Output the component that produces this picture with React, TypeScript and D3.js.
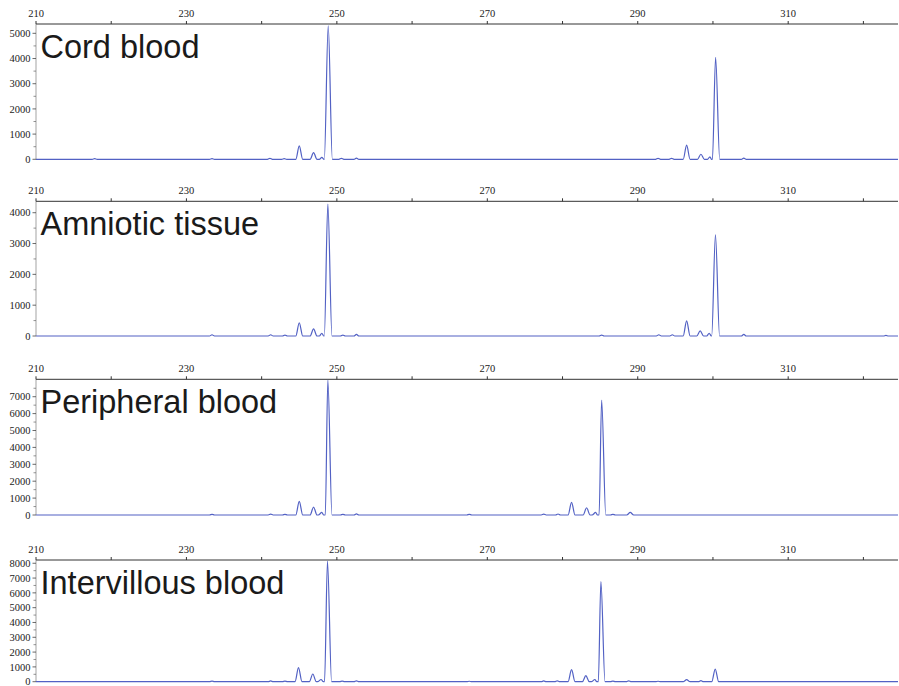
import React from "react";
import * as d3 from "d3";

// Panel titles
const panelTitles = ["Cord blood", "Amniotic tissue", "Peripheral blood", "Intervillous blood"];

// X axis (fragment size, bp)
const sizeDomain = [210, 324.6];
const majorSizeTicks = [210, 230, 250, 270, 290, 310];
const minorSizeTicks = [220, 240, 260, 280, 300, 320];

// Y axis maxima (RFU) and labeled ticks per panel
const rfuMax = [5370, 4370, 8030, 8220];
const rfuTicks = [
  [0, 1000, 2000, 3000, 4000, 5000],
  [0, 1000, 2000, 3000, 4000],
  [0, 1000, 2000, 3000, 4000, 5000, 6000, 7000],
  [0, 1000, 2000, 3000, 4000, 5000, 6000, 7000, 8000],
];

// Peaks: [size (bp), height (RFU)]
const cordBloodPeaks: [number, number][] = [
  [217.8, 30], [233.4, 30], [241.1, 40], [243.0, 30], [245.0, 530], [246.9, 265], [248.0, 80],
  [248.85, 5300], [250.6, 40], [252.6, 50], [292.7, 40], [294.5, 40], [296.5, 560], [298.4, 200],
  [299.6, 100], [300.35, 4050], [304.1, 50],
];
const amnioticPeaks: [number, number][] = [
  [233.4, 40], [241.2, 40], [243.1, 30], [245.0, 430], [246.9, 230], [248.0, 90], [248.8, 4280],
  [250.8, 30], [252.6, 50], [285.2, 30], [292.8, 40], [294.6, 40], [296.5, 490], [298.3, 165],
  [299.5, 90], [300.33, 3280], [304.1, 50], [323.0, 20],
];
const peripheralPeaks: [number, number][] = [
  [233.4, 40], [241.2, 50], [243.1, 40], [245.0, 810], [246.9, 470], [248.0, 150], [248.8, 7990],
  [250.8, 40], [252.6, 70], [267.6, 40], [277.5, 50], [279.4, 60], [281.2, 750], [283.2, 430],
  [284.4, 150], [285.2, 6800], [286.7, 40], [289.0, 150],
];
const intervillousPeaks: [number, number][] = [
  [233.4, 40], [241.2, 50], [243.1, 40], [244.9, 945], [246.8, 520], [247.9, 150], [248.75, 8150],
  [250.7, 40], [252.6, 60], [267.6, 30], [277.5, 50], [279.3, 60], [281.2, 810], [283.1, 405],
  [284.3, 150], [285.1, 6760], [286.7, 40], [288.8, 60], [292.7, 30], [296.5, 135], [298.4, 70],
  [300.3, 855],
];
const panelPeaks = [cordBloodPeaks, amnioticPeaks, peripheralPeaks, intervillousPeaks];

// Layout
const W = 899;
const H = 686;
const left = 36;
const right = 898;
const axisTops = [24, 201.3, 379.3, 560];
const zeroYs = [159.3, 336, 515, 681.7];
const serif = "Liberation Serif, Times New Roman, Times, DejaVu Serif, serif";

function halfWidth(h: number) {
  if (h > 2000) return 0.55;
  if (h > 100) return 0.46;
  return 0.33;
}

function tracePoints(peaks: [number, number][]): [number, number][] {
  const pts: [number, number][] = [[sizeDomain[0], 0]];
  peaks.forEach(([p, h]) => {
    const w = halfWidth(h);
    pts.push([p - w, 0], [p, h], [p + w, 0]);
  });
  pts.push([sizeDomain[1], 0]);
  return pts.sort((a, b) => a[0] - b[0]);
}

function Panel({ i }: { i: number }) {
  const x = d3.scaleLinear().domain(sizeDomain).range([left, right]);
  const y = d3.scaleLinear().domain([0, rfuMax[i]]).range([zeroYs[i], axisTops[i]]);
  const line = d3
    .line<[number, number]>()
    .x((d) => x(d[0]))
    .y((d) => y(d[1]))
    .curve(d3.curveMonotoneX);
  const minorY = d3.range(500, rfuMax[i], 1000);
  const top = axisTops[i];
  return (
    <g>
      <line x1={left} x2={right} y1={top} y2={top} stroke="#333" strokeWidth={1} />
      <line x1={left} x2={left} y1={top} y2={zeroYs[i]} stroke="#666" strokeWidth={0.6} />
      {majorSizeTicks.map((t) => (
        <g key={"M" + t}>
          <line x1={x(t)} x2={x(t)} y1={top - 3} y2={top} stroke="#333" />
          <text
            x={x(t)}
            y={top - 7.5}
            textAnchor="middle"
            style={{ fontFamily: serif }}
            fontSize={10.5}
            fill="#222"
          >
            {t}
          </text>
        </g>
      ))}
      {minorSizeTicks.map((t) => (
        <line key={"m" + t} x1={x(t)} x2={x(t)} y1={top - 3} y2={top} stroke="#333" />
      ))}
      {rfuTicks[i].map((t) => (
        <g key={"y" + t}>
          <line x1={left - 3.5} x2={left} y1={y(t)} y2={y(t)} stroke="#444" strokeWidth={0.8} />
          <text
            x={30.5}
            y={y(t)}
            dy="0.35em"
            textAnchor="end"
            style={{ fontFamily: serif }}
            fontSize={10.5}
            fill="#222"
          >
            {t}
          </text>
        </g>
      ))}
      {minorY.map((t) => (
        <line key={"my" + t} x1={left - 2.5} x2={left} y1={y(t)} y2={y(t)} stroke="#666" strokeWidth={0.7} />
      ))}
      <path d={line(tracePoints(panelPeaks[i])) || ""} fill="none" stroke="#5261c4" strokeWidth={1.2} />
      <text
        x={40.5}
        y={top + 34}
        style={{ fontFamily: "Liberation Sans, Arial, Helvetica, sans-serif" }}
        fontSize={32.5}
        fill="#1a1a1a"
      >
        {panelTitles[i]}
      </text>
    </g>
  );
}

export default function App() {
  return (
    <svg
      width={W}
      height={H}
      style={{ position: "absolute", left: 0, top: 0, background: "#fff", display: "block" }}
    >
      <rect width={W} height={H} fill="#fff" />
      {panelTitles.map((_, i) => (
        <Panel key={i} i={i} />
      ))}
    </svg>
  );
}
